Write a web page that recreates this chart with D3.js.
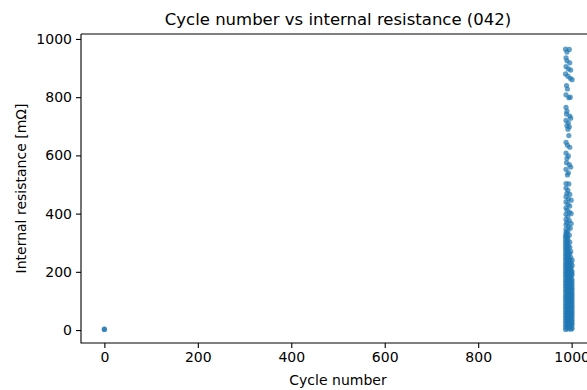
<!DOCTYPE html>
<html>
<head>
<meta charset="utf-8">
<script src="https://cdn.jsdelivr.net/npm/d3@7"></script>
<style>
  body { margin: 0; background: #fff; }
  text { font-family: "DejaVu Sans", sans-serif; fill: #000; }
</style>
</head>
<body>
<svg id="chart" width="587" height="390"></svg>
<script>
// [cycle number, internal resistance mΩ]
const startPoints = [[0, 2], [0, 3]];

const sparsePoints = [
    [987, 965], [995, 964], [990, 955],
    [988, 935], [990, 925], [996, 918],
    [988, 905], [993, 897], [998, 893],
    [987, 880], [992, 872], [997, 865], [1001, 860],
    [989, 840], [991, 828],
    [988, 808], [994, 798], [997, 800],
    [988, 765], [990, 752],
    [989, 742], [996, 735], [998, 728],
    [988, 720], [993, 712], [990, 702], [995, 698],
    [992, 690],
    [994, 668],
    [988, 645], [991, 635], [996, 628],
    [988, 608], [993, 598], [990, 590],
    [989, 575], [995, 568], [998, 560],
    [988, 552], [993, 540], [991, 533],
    [988, 503], [994, 502],
    [988, 488], [992, 480], [990, 470], [996, 466],
    [988, 458], [993, 450], [999, 446],
    [988, 440], [992, 432], [996, 426],
    [988, 420], [990, 412], [995, 405], [999, 400],
    [988, 398], [992, 390], [988, 380], [995, 376],
    [990, 370], [999, 366], [988, 362], [993, 356],
    [997, 350], [988, 346], [992, 340]
];

const densePoints = [
    [987, 2], [993, 4], [999, 3], [1001, 6],
    [987, 12], [993, 16], [999, 14], [1001, 18],
    [987, 22], [993, 26], [999, 24],
    [987, 32], [993, 36], [999, 34], [1001, 38],
    [987, 42], [993, 46], [999, 44],
    [987, 52], [993, 56], [999, 54], [1001, 58],
    [987, 62], [993, 66], [999, 64],
    [987, 72], [993, 76], [999, 74], [1001, 78],
    [987, 82], [993, 86], [999, 84],
    [987, 92], [993, 96], [999, 94], [1001, 98],
    [987, 102], [993, 106], [999, 104],
    [987, 112], [993, 116], [999, 114], [1001, 118],
    [987, 122], [993, 126], [999, 124],
    [987, 132], [993, 136], [999, 134], [1001, 138],
    [987, 142], [993, 146], [999, 144],
    [987, 152], [993, 156], [999, 154], [1001, 160],
    [987, 162], [993, 166], [999, 164],
    [987, 172], [993, 176], [999, 174],
    [987, 182], [993, 186], [999, 184], [1001, 190],
    [987, 192], [993, 196], [999, 194],
    [987, 202], [993, 206], [999, 204],
    [987, 212], [993, 216], [999, 214], [1001, 222],
    [987, 222], [993, 226], [999, 230],
    [987, 232], [993, 236],
    [987, 242], [993, 246], [998, 250],
    [987, 252], [993, 256],
    [987, 262], [993, 266], [998, 270],
    [987, 272], [992, 278],
    [987, 282], [993, 288],
    [987, 292], [991, 298], [996, 302],
    [987, 302], [992, 310],
    [987, 312], [991, 320], [995, 326],
    [987, 322], [990, 332]
];

const denseFill = [
    [990, 7], [996, 9], [990, 17], [996, 20], [990, 28], [996, 30],
    [990, 38], [996, 41], [990, 48], [996, 50], [990, 58], [996, 61],
    [990, 68], [996, 70], [990, 78], [996, 81], [990, 88], [996, 90],
    [990, 98], [996, 100], [990, 108], [996, 110], [990, 118], [996, 121],
    [990, 128], [996, 130], [990, 138], [996, 140], [990, 148], [996, 150],
    [990, 158], [996, 160], [990, 168], [996, 170], [990, 178], [996, 180],
    [990, 188], [996, 190], [990, 198], [996, 200], [990, 208], [996, 210],
    [990, 218], [996, 220], [990, 228], [996, 232], [990, 238], [996, 242],
    [990, 248], [990, 258], [996, 262], [990, 268], [990, 278], [996, 284],
    [990, 288], [990, 304], [990, 316], [988, 328], [988, 336],
    [1001, 28], [1001, 48], [1001, 68], [1001, 88], [1001, 108],
    [1001, 128], [1001, 148], [1001, 172], [1001, 200], [1001, 240]
];

const xTicks = [0, 200, 400, 600, 800, 1000];
const yTicks = [0, 200, 400, 600, 800, 1000];

const svg = d3.select("#chart");
const mLeft = 81, mTop = 34, mBottom = 343, mRight = 595;

const x = d3.scaleLinear().domain([-50, 1050]).range([mLeft, mRight]);
const y = d3.scaleLinear().domain([-44.5, 1017]).range([mBottom, mTop]);

const allPoints = startPoints.concat(densePoints, denseFill, sparsePoints);

svg.append("g")
    .selectAll("circle")
    .data(allPoints)
    .join("circle")
    .attr("cx", d => x(d[0]))
    .attr("cy", d => y(d[1]))
    .attr("r", 2.6)
    .attr("fill", "#1f77b4")
    .attr("fill-opacity", 0.7);

// spines
svg.append("path")
    .attr("d", `M${mLeft},${mTop}H${mRight}M${mLeft},${mTop}V${mBottom}H${mRight}`)
    .attr("fill", "none")
    .attr("stroke", "#000")
    .attr("stroke-width", 1.1);

const xAxis = svg.append("g")
    .attr("transform", `translate(0,${mBottom})`)
    .call(d3.axisBottom(x).tickValues(xTicks).tickSize(5).tickPadding(4).tickFormat(d3.format("d")));
const yAxis = svg.append("g")
    .attr("transform", `translate(${mLeft},0)`)
    .call(d3.axisLeft(y).tickValues(yTicks).tickSize(5).tickPadding(4).tickFormat(d3.format("d")));

[xAxis, yAxis].forEach(a => {
    a.select(".domain").remove();
    a.selectAll("line").attr("stroke", "#000").attr("stroke-width", 1.1);
    a.selectAll("text").style("font-family", "DejaVu Sans").style("font-size", "14px").attr("fill", "#000");
});

svg.append("text")
    .attr("x", (mLeft + mRight) / 2)
    .attr("y", 25)
    .attr("text-anchor", "middle")
    .style("font-size", "16.5px")
    .text("Cycle number vs internal resistance (042)");

svg.append("text")
    .attr("x", (mLeft + mRight) / 2)
    .attr("y", 385)
    .attr("text-anchor", "middle")
    .style("font-size", "14px")
    .text("Cycle number");

svg.append("text")
    .attr("transform", `translate(26,${(mTop + mBottom) / 2}) rotate(-90)`)
    .attr("text-anchor", "middle")
    .style("font-size", "14px")
    .text("Internal resistance [mΩ]");
</script>
</body>
</html>
